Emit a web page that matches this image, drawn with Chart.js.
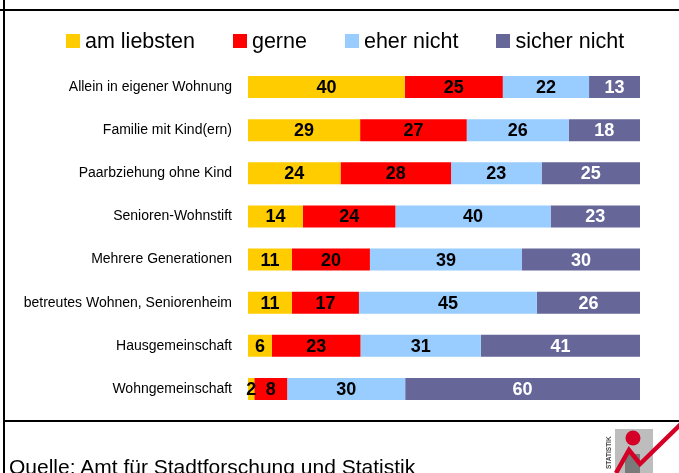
<!DOCTYPE html>
<html>
<head>
<meta charset="utf-8">
<script src="https://cdn.jsdelivr.net/npm/chart.js@4.4.0/dist/chart.umd.min.js"></script>
<style>
    body { margin: 0; width: 679px; height: 473px; overflow: hidden; background: #fff; position: relative;
           font-family: "Liberation Sans", Arial, sans-serif; color: #000; }
    #chart { position: absolute; left: 0; top: 0; }
    .line { position: absolute; background: #000; }
    #legend { position: absolute; left: 66px; top: 30px; height: 22px; display: flex; align-items: center; }
    .item { display: flex; align-items: center; margin-right: 38px; font-size: 21.5px; line-height: 22px; white-space: nowrap; }
    .box { width: 14px; height: 14px; margin-right: 5px; }
    #source { position: absolute; left: 9px; top: 456px; font-size: 21px; line-height: 21px; white-space: nowrap; }
    #logo { position: absolute; left: 600px; top: 423px; }
</style>
</head>
<body>
<canvas id="chart" width="679" height="473"></canvas>
<div class="line" style="left:0;top:9px;width:679px;height:2px"></div>
<div class="line" style="left:3px;top:0;width:2px;height:473px"></div>
<div class="line" style="left:3px;top:420px;width:676px;height:2px"></div>
<div id="legend"></div>
<div id="source">Quelle: Amt für Stadtforschung und Statistik</div>
<svg id="logo" width="79" height="50" viewBox="600 423 79 50">
    <rect x="615" y="429" width="38" height="44" fill="#bdbdbd"/>
    <rect x="625" y="454" width="15" height="19" fill="#7a7a7a"/>
    <circle cx="633" cy="438" r="7.5" fill="#d40026"/>
    <polyline points="616,473 629,450 640,464 681,424" fill="none" stroke="#d40026" stroke-width="4.5" stroke-linejoin="miter"/>
    <text x="0" y="0" transform="translate(611,469) rotate(-90)" font-size="6.5" font-weight="bold" fill="#444" font-family="Liberation Sans, Arial">STATISTIK</text>
</svg>
<script>
    var categories = ['Allein in eigener Wohnung', 'Familie mit Kind(ern)', 'Paarbziehung ohne Kind', 'Senioren-Wohnstift',
        'Mehrere Generationen', 'betreutes Wohnen, Seniorenheim', 'Hausgemeinschaft', 'Wohngemeinschaft'];
    var seriesNames = ['am liebsten', 'gerne', 'eher nicht', 'sicher nicht'];
    var seriesColors = ['#ffcc00', '#ff0000', '#99ccff', '#666699'];
    var amLiebsten  = [40, 28.6, 23.6, 14.0, 11.2, 11.2, 6.1, 1.6];
    var gerne       = [25, 27.2, 28.2, 23.6, 19.9, 17.1, 22.6, 8.4];
    var eherNicht   = [22, 26.0, 23.1, 39.6, 38.8, 45.4, 30.7, 30.1];
    var sicherNicht = [13, 18.2, 25.1, 22.8, 30.1, 26.3, 40.6, 59.9];
    var seriesValues = [amLiebsten, gerne, eherNicht, sicherNicht];
    var labelColors = ['#000', '#000', '#000', '#fff'];

    var fontFamily = '"Liberation Sans", Arial, sans-serif';

    // legend, built from the series arrays
    var legend = document.getElementById('legend');
    seriesNames.forEach(function (name, i) {
        var item = document.createElement('div');
        item.className = 'item';
        item.innerHTML = '<span class="box" style="background:' + seriesColors[i] + '"></span>' + name;
        legend.appendChild(item);
    });

    var valueLabels = {
        id: 'valueLabels',
        afterDatasetsDraw: function (chart) {
            var ctx = chart.ctx;
            ctx.save();
            ctx.font = 'bold 18px ' + fontFamily;
            ctx.textAlign = 'center';
            ctx.textBaseline = 'middle';
            chart.data.datasets.forEach(function (ds, i) {
                var meta = chart.getDatasetMeta(i);
                ctx.fillStyle = labelColors[i];
                meta.data.forEach(function (bar, j) {
                    var cx = (bar.x + bar.base) / 2;
                    ctx.fillText(Math.round(ds.data[j]), cx, bar.y + 1);
                });
            });
            ctx.restore();
        }
    };

    var ctx = document.getElementById('chart').getContext('2d');
    var myChart = new Chart(ctx, {
        type: 'bar',
        data: {
            labels: categories,
            datasets: seriesNames.map(function (name, i) {
                return {
                    label: name,
                    data: seriesValues[i],
                    backgroundColor: seriesColors[i],
                    borderWidth: 0,
                    barPercentage: 0.51,
                    categoryPercentage: 1
                };
            })
        },
        options: {
            indexAxis: 'y',
            responsive: false,
            animation: false,
            devicePixelRatio: 1,
            layout: { padding: { top: 65.5, bottom: 62.5, left: 0, right: 39 } },
            plugins: { legend: { display: false }, tooltip: { enabled: false } },
            scales: {
                x: { stacked: true, min: 0, max: 100, display: false },
                y: {
                    stacked: true,
                    grid: { display: false, drawTicks: false },
                    border: { display: false },
                    ticks: { padding: 16, color: '#000', font: { size: 14, family: fontFamily } },
                    afterFit: function (scale) { scale.width = 248; }
                }
            }
        },
        plugins: [valueLabels]
    });
</script>
</body>
</html>
